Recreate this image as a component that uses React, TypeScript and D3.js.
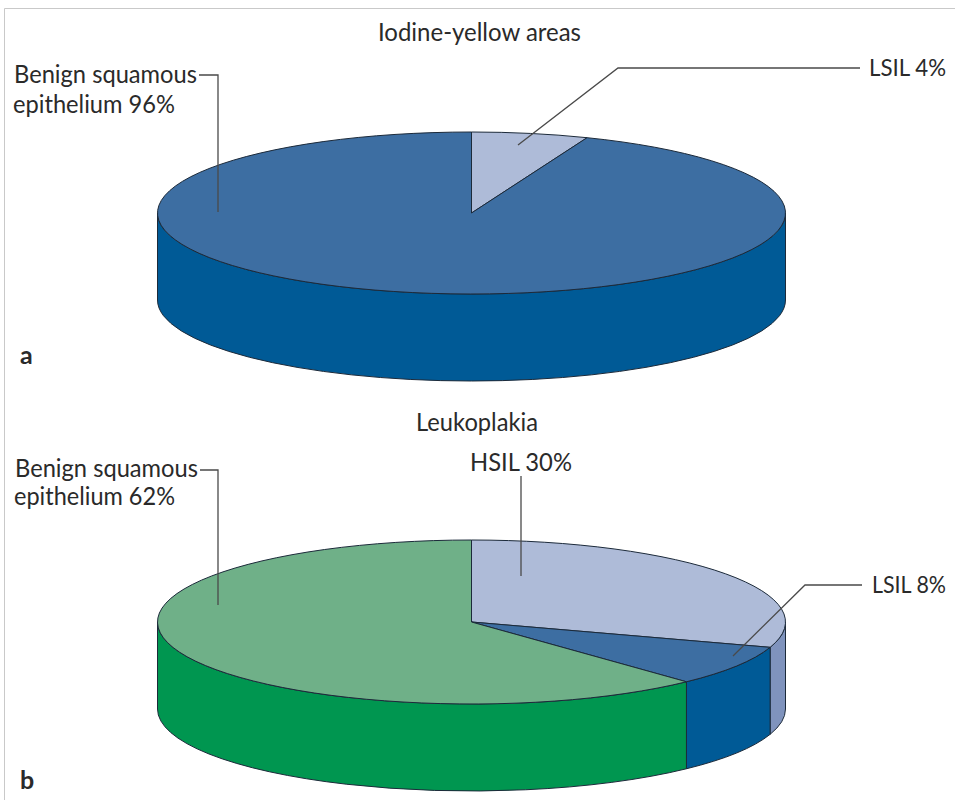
import React from "react";
import * as d3 from "d3";

// Shares as drawn in the picture (the small slice in panel a is drawn wider than its 4% label)
const categoriesA = ["LSIL", "Benign squamous epithelium"];
const drawnSharesA = [6, 94];
const categoriesB = ["HSIL", "LSIL", "Benign squamous epithelium"];
const drawnSharesB = [30, 8, 62];

const topColorsA = ["#aebbd8", "#3d6ea2"];
const sideColorsA = ["#7f93bd", "#005a96"];
const topColorsB = ["#aebbd8", "#3d6ea2", "#6fb088"];
const sideColorsB = ["#7f93bd", "#005a96", "#009650"];

const RX = 314;
const RY_A = 81;
const RY_B = 82;
const DEPTH = 87;
const CX = 471.5;
const STROKE = "#1c2a3a";
const TEXT = "#2a2a2a";
const LEADER = "#4a4a4a";
const FONT = "Lato, 'Open Sans', sans-serif";

type PieProps = { cy: number; ry: number; values: number[]; names: string[]; top: string[]; side: string[] };

function Pie3D({ cy, ry, values, names, top, side }: PieProps) {
  const arcs = d3.pie<number>().sort(null).value((d) => d)(values);
  const arcGen = d3.arc<d3.PieArcDatum<number>>().innerRadius(0).outerRadius(RX);
  const px = (a: number) => CX + RX * Math.sin(a);
  const py = (a: number) => cy - ry * Math.cos(a);
  const sidePath = (a0: number, a1: number) => {
    const s = Math.max(a0, Math.PI / 2);
    const e = Math.min(a1, (3 * Math.PI) / 2);
    if (e <= s) return null;
    return (
      `M${px(s)},${py(s)}` +
      `A${RX},${ry} 0 0 1 ${px(e)},${py(e)}` +
      `L${px(e)},${py(e) + DEPTH}` +
      `A${RX},${ry} 0 0 0 ${px(s)},${py(s) + DEPTH}Z`
    );
  };
  return (
    <g aria-label={names.join(", ")}>
      {arcs.map((d, i) => {
        const p = sidePath(d.startAngle, d.endAngle);
        return p ? <path key={`s${i}`} d={p} fill={side[i]} stroke={STROKE} strokeWidth={1} /> : null;
      })}
      <g transform={`translate(${CX},${cy}) scale(1,${ry / RX})`}>
        {arcs.map((d, i) => (
          <path
            key={`t${i}`}
            d={arcGen(d) ?? ""}
            fill={top[i]}
            stroke={STROKE}
            strokeWidth={1}
            vectorEffect="non-scaling-stroke"
          />
        ))}
      </g>
    </g>
  );
}

const leaders = [
  "M199,75H218V212",
  "M860,68H618L518,145",
  "M200,470H218V605",
  "M521,476V576",
  "M862,585H805L733,656",
];

const labels: { t: string; x: number; y: number; w?: number; b?: boolean; s?: number }[] = [
  { t: "Iodine-yellow areas", x: 378, y: 41, w: 203 },
  { t: "Benign squamous", x: 14, y: 83, w: 183 },
  { t: "epithelium 96%", x: 13, y: 113, w: 162 },
  { t: "LSIL 4%", x: 869, y: 76, w: 77, s: 23.5 },
  { t: "a", x: 20, y: 364, b: true },
  { t: "Leukoplakia", x: 416, y: 431, w: 122 },
  { t: "Benign squamous", x: 15, y: 477, w: 183 },
  { t: "epithelium 62%", x: 14, y: 505, w: 161 },
  { t: "HSIL 30%", x: 470, y: 471, w: 102 },
  { t: "LSIL 8%", x: 872, y: 593, w: 74, s: 23.5 },
  { t: "b", x: 20, y: 789, b: true },
];

export default function App() {
  return (
    <svg
      width={955}
      height={800}
      viewBox="0 0 955 800"
      style={{ position: "absolute", left: 0, top: 0, display: "block", background: "#fff" }}
    >
      <path d="M4.5,800V8.5H955" fill="none" stroke="#c9c9c9" strokeWidth={1} />
      <Pie3D cy={213} ry={RY_A} values={drawnSharesA} names={categoriesA} top={topColorsA} side={sideColorsA} />
      <Pie3D cy={622} ry={RY_B} values={drawnSharesB} names={categoriesB} top={topColorsB} side={sideColorsB} />
      {leaders.map((d, i) => (
        <path key={i} d={d} fill="none" stroke={LEADER} strokeWidth={1.3} />
      ))}
      {labels.map((l, i) => (
        <text
          key={i}
          x={l.x}
          y={l.y}
          fontFamily={FONT}
          fontSize={l.s ?? 25}
          fontWeight={l.b ? 700 : 400}
          fill={TEXT}
          textLength={l.w}
          lengthAdjust={l.w ? "spacingAndGlyphs" : undefined}
        >
          {l.t}
        </text>
      ))}
    </svg>
  );
}
